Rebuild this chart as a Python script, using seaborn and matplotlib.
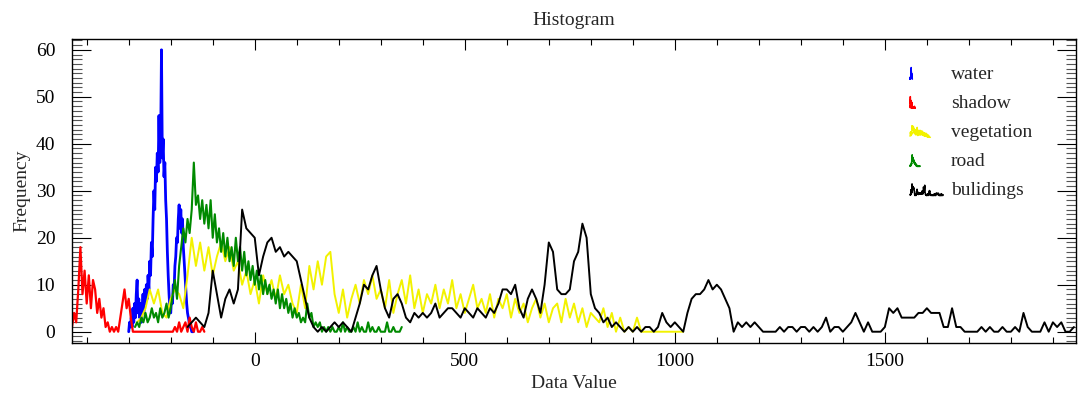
import numpy as np
import pandas as pd
import matplotlib
matplotlib.use("Agg")
import matplotlib.pyplot as plt
import seaborn as sns
from matplotlib.legend_handler import HandlerBase
from matplotlib.lines import Line2D
from matplotlib.ticker import MultipleLocator

# ---------------- data ----------------
categories = ["water", "shadow", "vegetation", "road", "bulidings"]

water_start, water_bin = -300, 2
water = [0, 2, 1, 3, 1, 5, 2, 6, 3, 8, 11, 4, 7, 3, 6, 2, 5, 8, 4, 9,
         6, 10, 7, 12, 9, 15, 12, 19, 16, 24,
         30, 26, 35, 32, 38, 34, 46, 36, 40, 60,
         37, 41, 33, 36, 28, 24, 17, 12, 8, 5,
         4, 7, 6, 10, 9, 14, 16, 20, 19, 24,
         27, 22, 26, 21, 24, 18, 15, 12, 9, 6,
         4, 3, 2, 1, 1, 0, 0, 0]

shadow_start, shadow_bin = -435, 5
shadow = [1, 4, 2, 9, 18, 8, 13, 6, 12, 5, 11, 9, 4, 7, 3, 5, 1, 2, 0, 1,
          0, 1, 0, 3, 6, 9, 5, 7, 3, 0,
          0, 0, 0, 0, 0, 0, 0, 0, 0, 0, 0, 0, 0, 0, 0, 0, 0, 0,
          0, 1, 0, 2, 0, 1, 2, 0, 3, 1, 0, 2, 0, 0, 1, 0]

vegetation_start, vegetation_bin = -280, 10
vegetation = [2, 3, 5, 9, 6, 9, 4, 3, 7, 9,
              8, 5, 12, 20, 14, 19, 13, 18, 12, 16,
              19, 15, 18, 13, 15, 10, 13, 8, 11, 6,
              12, 8, 11, 7, 12, 8, 10, 6, 4, 10,
              5, 14, 9, 15, 10, 16, 17, 8, 4, 9,
              3, 7, 10, 6, 11, 8, 12, 7, 9, 5,
              11, 4, 8, 11, 6, 12, 5, 9, 4, 8,
              6, 10, 5, 9, 6, 11, 5, 8, 4, 7,
              10, 5, 7, 4, 8, 3, 7, 5, 8, 3,
              7, 4, 6, 2, 5, 7, 3, 6, 2, 5,
              6, 2, 7, 3, 6, 2, 5, 1, 4, 3,
              2, 5, 1, 4, 0, 3, 0, 1, 0, 3,
              0, 0, 0, 0, 0, 0, 0, 0, 0, 0, 0]

road_start, road_bin = -285, 5
road = [1, 2, 1, 3, 2, 4, 2, 3, 5, 3, 4, 2, 5, 3, 4, 6, 3, 5,
        8, 11, 7, 14, 18, 22, 19, 24, 21, 26, 36, 27, 29, 24, 28, 23, 27, 22, 28, 20,
        25, 19, 22, 17, 21, 16, 20, 15, 18, 14, 20, 15, 18, 13, 17, 12, 15, 11, 14, 10,
        13, 9, 12, 8, 11, 8, 10, 7, 9, 6, 9, 5, 8, 5, 7, 4, 6, 3, 5, 3,
        4, 2, 3, 2, 6, 3, 4, 1, 2, 1, 2, 0, 1, 0, 1, 0, 1, 0, 0, 1,
        0, 2, 0, 1, 0, 0, 1, 0, 2, 0, 1, 0, 0, 2, 0, 1, 0, 0, 1, 0,
        0, 0, 2, 0, 0, 1, 0, 0, 0, 1]

buildings_start, buildings_bin = -160, 10
buildings = [1, 2, 3, 2, 1, 4, 13, 8, 3, 7,
             9, 6, 9, 26, 22, 21, 20, 12, 16, 19,
             20, 17, 18, 16, 17, 16, 15, 11, 7, 3,
             1, 0, 1, 0, 1, 2, 1, 2, 1, 0,
             3, 6, 10, 9, 12, 14, 9, 5, 3, 7,
             8, 6, 3, 2, 4, 3, 4, 3, 4, 6,
             3, 4, 5, 5, 4, 3, 5, 4, 3, 5,
             4, 3, 5, 4, 6, 9, 9, 8, 10, 5,
             3, 7, 9, 7, 4, 10, 19, 17, 9, 8,
             8, 9, 15, 17, 23, 20, 8, 5, 4, 2,
             3, 1, 2, 1, 0, 1, 0, 1, 0, 1,
             1, 0, 1, 4, 2, 1, 2, 1, 0, 4,
             7, 8, 8, 9, 11, 9, 10, 9, 7, 5,
             0, 2, 1, 2, 1, 2, 1, 0, 0, 0,
             0, 1, 0, 1, 1, 0, 1, 1, 0, 1,
             0, 1, 3, 0, 1, 1, 0, 1, 2, 4,
             2, 0, 2, 0, 0, 0, 1, 5, 4, 5,
             3, 3, 3, 3, 4, 4, 5, 4, 4, 4,
             1, 1, 5, 1, 1, 0, 0, 0, 0, 1,
             0, 1, 0, 0, 1, 0, 0, 1, 0, 4,
             1, 0, 0, 0, 2, 0, 2, 1, 2, 0, 0, 1]

x_ticks = [0, 500, 1000, 1500]
y_ticks = [0, 10, 20, 30, 40, 50, 60]

# ---------------- build long table ----------------
series = {
    "water": (water_start, water_bin, water),
    "shadow": (shadow_start, shadow_bin, shadow),
    "vegetation": (vegetation_start, vegetation_bin, vegetation),
    "road": (road_start, road_bin, road),
    "bulidings": (buildings_start, buildings_bin, buildings),
}
frames = []
for name in categories:
    s, b, v = series[name]
    v = np.asarray(v, float)
    frames.append(pd.DataFrame({"value": s + b * np.arange(len(v)),
                                "freq": v, "class": name}))
df = pd.concat(frames, ignore_index=True)

colors = {"water": "#0000ff", "shadow": "#ff0000", "vegetation": "#f2f200",
          "road": "#008a00", "bulidings": "#000000"}
widths = {"water": 2.0, "shadow": 1.6, "vegetation": 1.4, "road": 1.5, "bulidings": 1.4}

# ---------------- style ----------------
sns.set_style("ticks")
plt.rcParams["font.family"] = ["Liberation Serif", "DejaVu Serif"]
plt.rcParams["axes.linewidth"] = 1.0

fig = plt.figure(figsize=(10.78, 3.94), dpi=100)
ax = fig.add_axes([72 / 1078, 1 - 343 / 394, (1076 - 72) / 1078, (343 - 39) / 394])

for name in categories:
    sns.lineplot(data=df[df["class"] == name], x="value", y="freq",
                 color=colors[name], lw=widths[name], estimator=None, sort=False,
                 legend=False, ax=ax)

ax.set_xlim(-435, 1955)
ax.set_ylim(-2.4, 62.3)
ax.set_xticks(x_ticks)
ax.set_yticks(y_ticks)
ax.xaxis.set_minor_locator(MultipleLocator(100))
ax.yaxis.set_minor_locator(MultipleLocator(1))
ax.tick_params(axis="both", which="both", direction="in", top=True, right=True,
               width=0.8, colors="black", labelsize=14)
ax.tick_params(axis="x", which="major", length=8, pad=7)
ax.tick_params(axis="x", which="minor", length=4)
ax.tick_params(axis="y", which="major", length=14, pad=12)
ax.tick_params(axis="y", which="minor", length=7, color="#555555")
for sp in ax.spines.values():
    sp.set_color("black")

ax.set_xlabel("Data Value", fontsize=14, labelpad=4)
ax.set_ylabel("Frequency", fontsize=14, labelpad=4)
ax.set_title("Histogram", fontsize=14, pad=10)


# ---------------- legend with mini-histogram icons ----------------
class MiniHandler(HandlerBase):
    def __init__(self, xs, ys, span):
        super().__init__()
        self.xs = np.asarray(xs, float)
        self.ys = np.asarray(ys, float)
        self.span = span

    def create_artists(self, legend, orig_handle, xdescent, ydescent,
                       width, height, fontsize, trans):
        px = -xdescent + (self.xs - self.xs[0]) / self.span * width
        py = -ydescent + self.ys / self.ys.max() * height * 0.85
        ln = Line2D(px, py, color=orig_handle.get_color(), lw=1.1)
        ln.set_transform(trans)
        return [ln]


span = df.groupby("class")["value"].agg(lambda v: v.max() - v.min()).max()
handles, hmap = [], {}
for name in categories:
    h = Line2D([], [], color=colors[name])
    sub = df[df["class"] == name]
    hmap[h] = MiniHandler(sub["value"].values, sub["freq"].values, span)
    handles.append(h)

fig.legend(handles, categories, handler_map=hmap, loc="upper left",
           bbox_to_anchor=(910 / 1078, 1 - 65.5 / 394), bbox_transform=fig.transFigure,
           frameon=False, borderpad=0, borderaxespad=0, handlelength=1.7,
           handletextpad=0.41, labelspacing=0.59, fontsize=14)

fig.savefig("out.png", dpi=100)
